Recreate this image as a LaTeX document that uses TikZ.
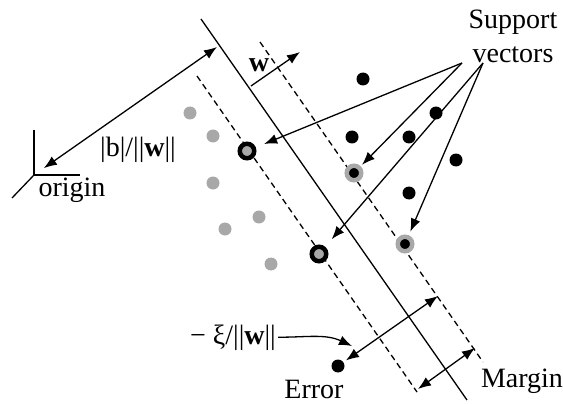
\documentclass[tikz,border=0pt]{standalone}
\usepackage{fontspec}
\setmainfont{Liberation Serif}
\usetikzlibrary{arrows.meta, positioning}

\begin{document}
\begin{tikzpicture}[
        x=1pt, y=-1pt,
        font=\fontsize{28}{34}\selectfont,
        negdot/.style={circle, fill=black!34, minimum size=13pt, inner sep=0pt},
        posdot/.style={circle, fill=black, minimum size=13pt, inner sep=0pt},
        negsv/.style={circle, fill=black!34, draw=black, line width=4.5pt, minimum size=14.5pt, inner sep=0pt},
        possv/.style={circle, fill=black, draw=black!34, line width=4.5pt, minimum size=14.5pt, inner sep=0pt},
        txt/.style={inner sep=2pt},
        line/.style={draw, line width=1.3pt, -{Latex[length=13pt,width=10pt]}},
        dline/.style={draw, line width=1.3pt, {Latex[length=13pt,width=10pt]}-{Latex[length=13pt,width=10pt]}},
        margin/.style={draw, line width=1.3pt, dash pattern=on 6pt off 4pt}
    ]
    \useasboundingbox (0,0) rectangle (563,404);

    % Hyperplane and margins
    \draw[line width=1.3pt] (201,19) -- (467,400);
    \path[margin] (197,76) -- (417,392);
    \path[margin] (260,42) -- (483,362);

    % Origin
    \coordinate (orig) at (34,175);
    \draw[line width=1.3pt] (orig) ++(0,-45) -- (orig) -- ++(46,0);
    \draw[line width=1.3pt] (orig) -- ++(-22,23);
    \node[txt, anchor=base] (olabel) at (72,196) {origin};

    % Points
    \foreach \p [count=\i] in {(190,113),(213,136),(213,183),(225,229),(259,217),(271,264)}
        \node[negdot] (m\i) at \p {};
    \foreach \p [count=\i] in {(363,79),(352,137),(409,137),(436,113),(456,160),(409,193)}
        \node[posdot] (p\i) at \p {};
    \node[negsv] (sv1) at (247,151) {};
    \node[negsv] (sv2) at (319,254) {};
    \node[possv] (sv3) at (354,173) {};
    \node[possv] (sv4) at (405,244) {};
    \node[posdot] (err) at (338,366) {};

    % Labels
    \node[txt, anchor=base] (blabel) at (138,157) {|b|/||\textbf{w}||};
    \node[txt, anchor=base] (wlabel) at (259,72) {\textbf{w}};
    \node[txt, align=center] (svlabel) at (513,36) {Support\\vectors};
    \node[txt, anchor=base] (xilabel) at (233,344) {− ξ/||\textbf{w}||};
    \node[txt, anchor=base] (elabel) at (314,398) {Error};
    \node[txt, anchor=base] (mlabel) at (522,387) {Margin};

    % Arrows
    \coordinate (hp) at (217,47);
    \path[dline, shorten >=12pt] (hp) -- (orig);
    \coordinate (wa) at (251,86);
    \coordinate (wb) at (300,52);
    \path[line] (wa) -- (wb);
    \coordinate (sva) at (462,63);
    \coordinate (svb) at (483,63);
    \path[line, shorten >=9pt] (sva) -- (sv1);
    \path[line, shorten >=2pt] (sva) -- (sv3);
    \path[line, shorten >=10pt] (svb) -- (sv2);
    \path[line, shorten >=4pt] (svb) -- (sv4);
    \coordinate (ea) at (438,296);
    \path[dline, shorten <=3pt] (err) -- (ea);
    \coordinate (ma) at (418,389);
    \coordinate (mb) at (475,348);
    \path[dline] (ma) -- (mb);
    \coordinate (xitip) at (352,346);
    \path[line] (xilabel.east) to[out=0, in=155] (xitip);
\end{tikzpicture}
\end{document}
